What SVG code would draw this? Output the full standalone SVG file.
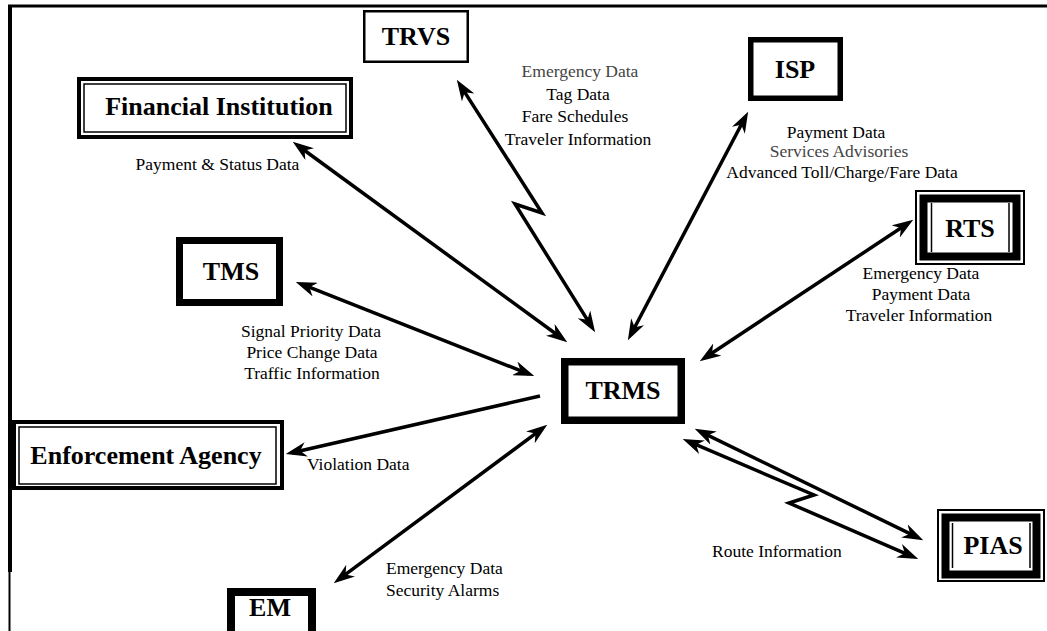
<svg xmlns="http://www.w3.org/2000/svg" width="1047" height="631" viewBox="0 0 1047 631">
  <style>
    .frame { stroke: #000; fill: none; }
    .box { fill: #fff; stroke: #000; }
    .thin { fill: none; stroke: #000; }
    .name { font-family: "Liberation Serif", "Times New Roman", serif; font-weight: bold; font-size: 26px; fill: #000; text-anchor: middle; }
    .lbl { font-family: "Liberation Serif", "Times New Roman", serif; font-size: 17.5px; fill: #000; }
    .mid { text-anchor: middle; }
    .soft { fill: #444; }
    .link { fill: none; stroke: #000; stroke-width: 3.5; stroke-linejoin: miter; }
  </style>
  <defs>
    <marker id="head" viewBox="0 0 20 14" refX="14" refY="7" markerWidth="21" markerHeight="14.7" markerUnits="userSpaceOnUse" orient="auto-start-reverse">
      <path d="M0,0 L20,7 L0,14 L6,7 z" fill="#000"/>
    </marker>
  </defs>

  <rect width="1047" height="631" fill="#fff"/>

  <!-- page frame -->
  <g id="frame">
    <line class="frame" x1="8" y1="6" x2="1047" y2="6" stroke-width="3"/>
    <line class="frame" x1="10" y1="5" x2="10" y2="572" stroke-width="4"/>
    <line class="frame" x1="9.5" y1="572" x2="9.5" y2="631" stroke-width="2"/>
  </g>

  <!-- connectors -->
  <g id="connectors">
    <path class="link" d="M297.8,145.5 L562.2,338.5" marker-start="url(#head)" marker-end="url(#head)"/>
    <path class="link" d="M460.2,85.1 L542,213 L515,204 L591.8,326.9" marker-start="url(#head)" marker-end="url(#head)"/>
    <path class="link" d="M745.2,117.3 L630.8,334.7" marker-start="url(#head)" marker-end="url(#head)"/>
    <path class="link" d="M908,223.3 L705,357.7" marker-start="url(#head)" marker-end="url(#head)"/>
    <path class="link" d="M301.6,284.2 L528.4,373.8" marker-start="url(#head)" marker-end="url(#head)"/>
    <path class="link" d="M540,396 L291.9,452.7" marker-end="url(#head)"/>
    <path class="link" d="M338.8,579.4 L542.2,428.6" marker-start="url(#head)" marker-end="url(#head)"/>
    <path class="link" d="M700.4,431.6 L917.6,537.4" marker-start="url(#head)" marker-end="url(#head)"/>
    <path class="link" d="M688.5,441.4 L814,495 L789,503 L912.5,556.6" marker-start="url(#head)" marker-end="url(#head)"/>
  </g>

  <!-- connector labels -->
  <g id="labels">
    <text class="lbl mid" x="217.5" y="170">Payment &amp; Status Data</text>
    <text class="lbl mid soft" x="580" y="77">Emergency Data</text>
    <text class="lbl mid" x="578" y="100">Tag Data</text>
    <text class="lbl mid" x="575" y="122">Fare Schedules</text>
    <text class="lbl mid" x="578" y="145">Traveler Information</text>
    <text class="lbl mid" x="836" y="138">Payment Data</text>
    <text class="lbl mid soft" x="839" y="157">Services Advisories</text>
    <text class="lbl mid" x="842" y="178">Advanced Toll/Charge/Fare Data</text>
    <text class="lbl mid" x="921" y="279">Emergency Data</text>
    <text class="lbl mid" x="921" y="300">Payment Data</text>
    <text class="lbl mid" x="919" y="321">Traveler Information</text>
    <text class="lbl mid" x="311" y="337">Signal Priority Data</text>
    <text class="lbl mid" x="312" y="358">Price Change Data</text>
    <text class="lbl mid" x="312" y="379">Traffic Information</text>
    <text class="lbl" x="307" y="470">Violation Data</text>
    <text class="lbl" x="386" y="574">Emergency Data</text>
    <text class="lbl" x="386" y="596">Security Alarms</text>
    <text class="lbl" x="712" y="557">Route Information</text>
  </g>

  <!-- nodes -->
  <g id="trvs">
    <rect class="box" x="364.25" y="11.25" width="103.5" height="50.5" stroke-width="2.5"/>
    <text class="name" x="416" y="45">TRVS</text>
  </g>

  <g id="financial-institution">
    <rect class="box" x="79" y="79" width="272" height="58" stroke-width="4"/>
    <rect class="thin" x="84" y="84" width="262" height="48" stroke-width="1.5"/>
    <text class="name" x="219" y="115">Financial Institution</text>
  </g>

  <g id="isp">
    <rect class="box" x="750.75" y="39.75" width="89.5" height="58.5" stroke-width="5.5"/>
    <text class="name" x="795" y="78">ISP</text>
  </g>

  <g id="rts">
    <rect class="box" x="916" y="191" width="108" height="73" stroke-width="2"/>
    <rect class="thin" x="923.5" y="198.5" width="93" height="58" stroke-width="8"/>
    <line class="thin" x1="931.5" y1="203" x2="931.5" y2="252" stroke-width="1.5"/>
    <line class="thin" x1="1009" y1="203" x2="1009" y2="252" stroke-width="1.5"/>
    <text class="name" x="970" y="237">RTS</text>
  </g>

  <g id="tms">
    <rect class="box" x="179.5" y="240.5" width="100" height="62" stroke-width="7"/>
    <text class="name" x="231" y="280">TMS</text>
  </g>

  <g id="trms">
    <rect class="box" x="564.75" y="361.75" width="116.5" height="58.5" stroke-width="7.5"/>
    <text class="name" x="623" y="399">TRMS</text>
  </g>

  <g id="enforcement-agency">
    <rect class="box" x="14" y="422" width="268" height="66" stroke-width="4"/>
    <rect class="thin" x="19" y="427" width="257" height="57" stroke-width="1.5"/>
    <text class="name" x="146" y="464">Enforcement Agency</text>
  </g>

  <g id="em">
    <rect class="box" x="231" y="592" width="81" height="50" stroke-width="8"/>
    <text class="name" x="270" y="616">EM</text>
  </g>

  <g id="pias">
    <rect class="box" x="938" y="510" width="106" height="71" stroke-width="2"/>
    <rect class="thin" x="945.5" y="517.5" width="91" height="57" stroke-width="8"/>
    <line class="thin" x1="952.5" y1="523" x2="952.5" y2="568" stroke-width="1.5"/>
    <line class="thin" x1="1030" y1="523" x2="1030" y2="568" stroke-width="1.5"/>
    <text class="name" x="993" y="554">PIAS</text>
  </g>
</svg>
